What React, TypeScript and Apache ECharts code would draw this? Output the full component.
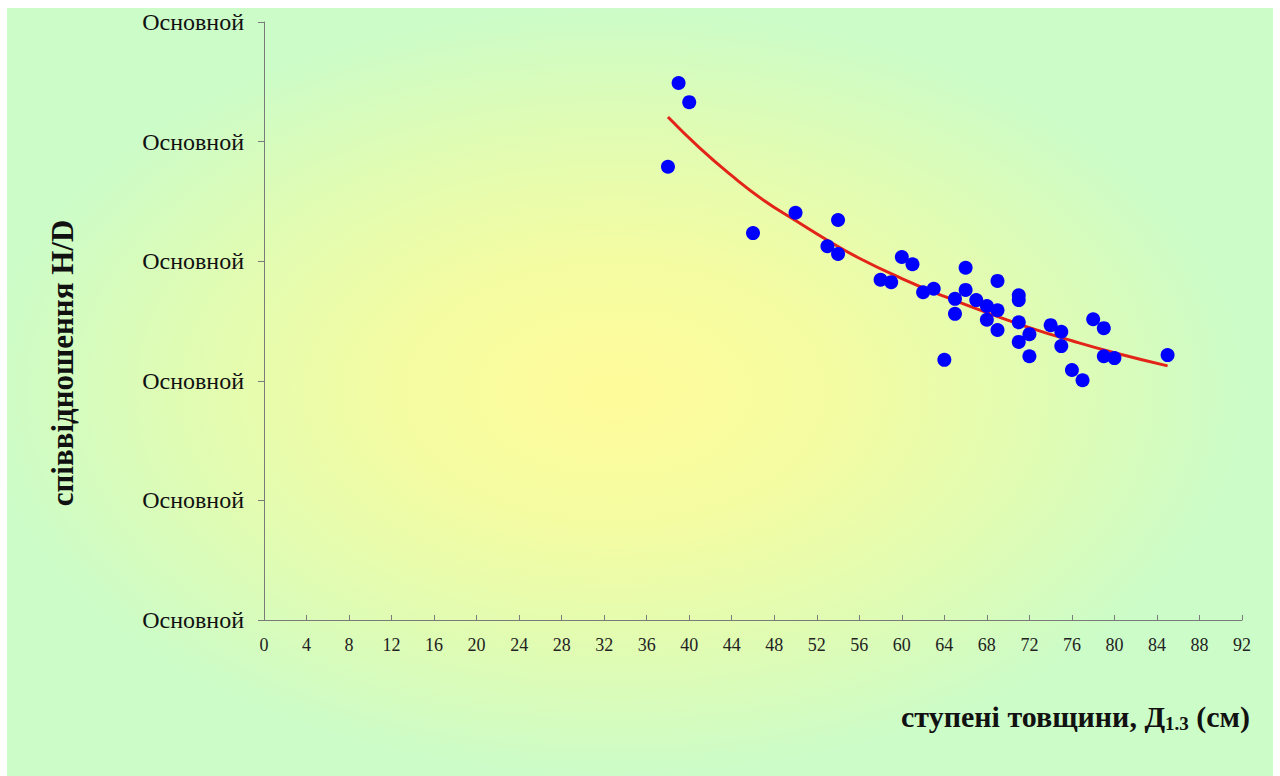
import React, { useEffect, useRef } from "react";
import * as echarts from "echarts";

const xTicks = { min: 0, max: 92, interval: 4 };
const yTickLabel = "Основной";

const diameters = [38, 39, 40, 46, 50, 54, 53, 54, 58, 59, 60, 61, 62, 63, 64, 65, 65, 66, 66, 67, 68, 68, 69, 69, 69, 71, 71, 71, 71, 72, 72, 74, 75, 75, 76, 77, 78, 79, 79, 80, 85];
const ratios = [75.8, 89.8, 86.6, 64.7, 68.1, 66.9, 62.5, 61.2, 56.9, 56.5, 60.7, 59.5, 54.8, 55.4, 43.5, 53.7, 51.2, 58.9, 55.2, 53.5, 52.5, 50.2, 56.7, 51.8, 48.5, 54.3, 53.5, 49.8, 46.5, 47.8, 44.1, 49.3, 48.2, 45.8, 41.8, 40.1, 50.3, 48.8, 44.1, 43.8, 44.3];

const trendX = [38, 41, 44, 47, 50, 53, 56, 60, 64, 68, 72, 76, 80, 85];
const trendY = [84.1, 78.9, 74.3, 70.2, 66.8, 63.5, 60.5, 57.1, 54.1, 51.4, 48.9, 46.7, 44.7, 42.5];

const xTitle = "ступені товщини, ";
const xTitleSub = "1.3";
const yTitle = "співвідношення H/D";

export default function App() {
  const ref = useRef<HTMLDivElement>(null);
  useEffect(() => {
    if (!ref.current) return;
    const chart = echarts.init(ref.current, undefined, { renderer: "svg" });
    const points = diameters.map((d, i) => [d, ratios[i]]);
    const trend = trendX.map((d, i) => [d, trendY[i]]);
    const serif = "'Liberation Serif', 'Times New Roman', serif";
    chart.setOption({
      animation: false,
      backgroundColor: "#ffffff",
      graphic: [
        {
          type: "rect",
          z: -10,
          silent: true,
          shape: { x: 7, y: 8, width: 1266, height: 768 },
          style: {
            fill: {
              type: "radial",
              x: 0.48,
              y: 0.5,
              r: 0.5,
              colorStops: [
                { offset: 0, color: "#fffb9a" },
                { offset: 0.35, color: "#f4fca2" },
                { offset: 0.7, color: "#dffcb4" },
                { offset: 1, color: "#ccfcc8" },
              ],
            },
          },
        },
        {
          type: "text",
          x: 1250,
          y: 716,
          style: {
            text: "{a|" + xTitle + "Д}{s|" + xTitleSub + "}{a| (см)}",
            align: "right",
            verticalAlign: "middle",
            rich: {
              a: { fontFamily: serif, fontWeight: "bold", fontSize: 30, fill: "#111", color: "#111" },
              s: { fontFamily: serif, fontWeight: "bold", fontSize: 19, fill: "#111", color: "#111", padding: [15, 0, 0, 0] },
            },
          },
        },
        {
          type: "text",
          x: 62,
          y: 363,
          rotation: Math.PI / 2,
          style: {
            text: yTitle,
            align: "center",
            verticalAlign: "middle",
            fontFamily: serif,
            fontWeight: "bold",
            fontSize: 31,
            fill: "#111",
          },
        },
      ],
      grid: { left: 264, right: 38, top: 22, bottom: 156, containLabel: false },
      xAxis: {
        type: "value",
        min: xTicks.min,
        max: xTicks.max,
        interval: xTicks.interval,
        splitLine: { show: false },
        axisLine: { lineStyle: { color: "#7a7a7a", width: 1 } },
        axisTick: { inside: true, length: 5, lineStyle: { color: "#7a7a7a" } },
        axisLabel: { margin: 16, fontFamily: serif, fontSize: 18, color: "#222" },
      },
      yAxis: {
        type: "value",
        min: 0,
        max: 100,
        interval: 20,
        splitLine: { show: false },
        axisLine: { show: true, lineStyle: { color: "#7a7a7a", width: 1 } },
        axisTick: { show: true, inside: false, length: 6, lineStyle: { color: "#7a7a7a" } },
        axisLabel: { margin: 20, fontFamily: serif, fontSize: 24, color: "#111", formatter: () => yTickLabel },
      },
      series: [
        {
          type: "line",
          data: trend,
          smooth: true,
          showSymbol: false,
          lineStyle: { color: "#e32419", width: 3 },
          z: 2,
        },
        {
          type: "scatter",
          data: points,
          symbol: "circle",
          symbolSize: 14,
          itemStyle: { color: "#0000ff", opacity: 1 },
          z: 3,
        },
      ],
    });
    return () => chart.dispose();
  }, []);
  return <div ref={ref} style={{ position: "fixed", left: 0, top: 0, width: 1280, height: 776 }} />;
}
